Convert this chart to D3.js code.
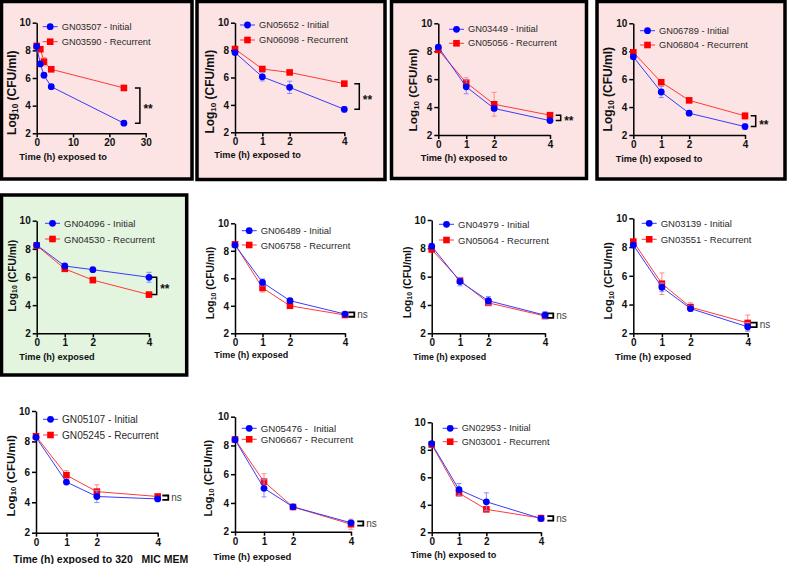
<!DOCTYPE html>
<html><head><meta charset="utf-8">
<script src="https://cdn.jsdelivr.net/npm/d3@7"></script>
<style>
body{margin:0;background:#fff}
svg{display:block;font-family:"Liberation Sans",Arial,sans-serif}
</style>
</head><body><svg id="c" width="787" height="564"></svg>
<script>
// ---------------- DATA ----------------
const initialStrains   = ["GN03507","GN05652","GN03449","GN06789","GN04096","GN06489","GN04979","GN03139","GN05107","GN05476","GN02953"];
const recurrentStrains = ["GN03590","GN06098","GN05056","GN06804","GN04530","GN06758","GN05064","GN03551","GN05245","GN06667","GN03001"];
const initialSep = [" - "," - "," - "," - "," - "," - "," - "," - "," - "," -  "," - "];
const timesLong  = [0,1,2,4,24];
const timesShort = [0,1,2,4];
const initialMeans = [
  [8.28,7.02,6.20,5.37,2.73],
  [7.82,6.05,5.28,3.68],
  [8.30,5.45,3.90,3.03],
  [7.60,5.08,3.56,2.60],
  [8.27,6.78,6.52,5.98],
  [8.42,5.70,4.37,3.40],
  [8.15,5.65,4.30,3.28],
  [8.14,5.20,3.72,2.45],
  [8.27,5.33,4.38,4.22],
  [8.40,5.02,3.73,2.62],
  [8.45,5.10,4.22,3.00]
];
const initialErr = [
  [0.08,0.10,0.15,0.05,0.15],
  [0.08,0.30,0.45,0.20],
  [0.10,0.50,0.15,0.08],
  [0.08,0.40,0.08,0.20],
  [0.08,0.10,0.08,0.35],
  [0.10,0.25,0.10,0.10],
  [0.08,0.30,0.30,0.25],
  [0.08,0.30,0.20,0.30],
  [0.05,0.10,0.40,0.10],
  [0.10,0.60,0.05,0.15],
  [0.08,0.45,0.65,0.12]
];
const recurrentMeans = [
  [8.32,8.08,7.18,6.63,5.28],
  [8.08,6.62,6.37,5.55],
  [8.10,5.75,4.20,3.42],
  [7.92,5.78,4.48,3.37],
  [8.24,6.58,5.78,4.75],
  [8.47,5.30,4.00,3.33],
  [7.92,5.72,4.15,3.22],
  [8.38,5.45,3.82,2.72],
  [8.34,5.78,4.70,4.38],
  [8.42,5.48,3.72,2.52],
  [8.38,4.85,3.67,3.03]
];
const recurrentErr = [
  [0.10,0.15,0.30,0.10,0.08],
  [0.05,0.12,0.08,0.05],
  [0.08,0.35,0.85,0.05],
  [0.08,0.10,0.05,0.25],
  [0.05,0.05,0.05,0.08],
  [0.05,0.30,0.08,0.10],
  [0.05,0.20,0.10,0.10],
  [0.05,0.75,0.30,0.55],
  [0.05,0.30,0.45,0.15],
  [0.05,0.55,0.08,0.35],
  [0.05,0.15,0.12,0.20]
];
const significance = ["**","**","**","**","**","ns","ns","ns","ns","ns","ns"];
const yTickValues = [2,4,6,8,10];
const xTicksLong  = [0,10,20,30];
const xTicksShort = [0,1,2,4];
const xTitles = [
  "Time (h) exposed to","Time (h) exposed to","Time (h) exposed to","Time (h) exposed to",
  "Time (h) exposed","Time (h) exposed","Time (h) exposed","Time (h) exposed",
  "Time (h) exposed to 320   MIC MEM","Time (h) exposed","Time (h) exposed to"
];
const yTitleMain = "Log";
const yTitleSub = "10";
const yTitleRest = " (CFU/ml)";

// ---------------- LAYOUT ----------------
const PINK = "#fce4e4", GREEN = "#e3f4df";
const layout = [
 {box:[1.5,1.5,192,179],fill:PINK, ax:36.7,xe:145.7,yt:22.7,yb:133.3, lab:[11.7,92.7,12], leg:[42.7,26.7,41.7,9.3], title:[19.3,157.3,9.3], bdx:16, xmax:30},
 {box:[197,1.5,385,179.5],fill:PINK, ax:235,xe:344.3,yt:22.7,yb:132.3, lab:[210,91.7,11.9], leg:[240,25,40,9.3], title:[214.3,155,9.2], bdx:15, xmax:4},
 {box:[391.5,1.5,586.5,178.5],fill:PINK, ax:438.3,xe:550,yt:23.3,yb:135, lab:[413.3,90,11.8], leg:[449,29.3,43.3,9.3], title:[420.7,158.3,9.2], bdx:10.7, xmax:4},
 {box:[597,1.5,785,179],fill:PINK, ax:633.3,xe:745,yt:23.3,yb:135, lab:[608.3,89.2,12], leg:[640,30.7,45,9.3], title:[615.7,159.3,9.2], bdx:10.7, xmax:4},
 {box:[1.5,195,186.7,375],fill:GREEN, ax:36.7,xe:149,yt:220.7,yb:333.3, lab:[11.7,275.8,10.2], leg:[45,223.3,239,9.5], title:[19.3,357.3,9.2], bdx:7.7, xmax:4},
 {box:null, ax:235,xe:345,yt:223.3,yb:333.3, lab:[210,283,10.3], leg:[241.7,230.7,245,9.4], title:[214.3,355,9.0], bdx:9.3, xmax:4},
 {box:null, ax:431.7,xe:545,yt:220,yb:333.3, lab:[406.7,282.5,10.2], leg:[439,224.3,240,9.5], title:[413.3,356.7,8.9], bdx:8.3, xmax:4},
 {box:null, ax:633.3,xe:747.7,yt:218.3,yb:333.3, lab:[608.3,280.8,11], leg:[641.7,223.3,239.3,9.5], title:[615,356.7,9.3], bdx:9, xmax:4},
 {box:null, ax:36,xe:157.7,yt:411,yb:532.7, lab:[10,475.8,11.6], leg:[43,419.3,435,10.1], title:[13.3,559,10.5], bdx:10.6, xmax:4},
 {box:null, ax:235,xe:351,yt:416.7,yb:531.7, lab:[208.3,478.3,10.9], leg:[241.7,428.3,439.3,9.7], title:[213.3,556.7,9.5], bdx:12.3, xmax:4},
 {box:null, ax:431.7,xe:541,yt:422.3,yb:532.3, lab:null, leg:[442.7,428.3,441.7,9.2], title:[410.7,555,9.1], bdx:12.3, xmax:4}
];

const BLUE = "#0000ff", RED = "#ff0000";
const BLUE_LINE = "#3a3aff", RED_LINE = "#ff3a3a";
const BLUE_ERR = "#8c8cff", RED_ERR = "#ff8c8c";

const svg = d3.select("#c");

layout.forEach((L, i) => {
  const g = svg.append("g");
  if (L.box) {
    const [x0,y0,x1,y1] = L.box;
    g.append("rect").attr("x",x0).attr("y",y0).attr("width",x1-x0).attr("height",y1-y0)
      .attr("fill",L.fill).attr("stroke","#000").attr("stroke-width",3.5);
  }
  const times = i === 0 ? timesLong : timesShort;
  const xt = i === 0 ? xTicksLong : xTicksShort;
  const x = d3.scaleLinear().domain([0, L.xmax]).range([L.ax, L.xe]);
  const y = d3.scaleLinear().domain([2, 10]).range([L.yb, L.yt]);

  // axes
  const yAxis = d3.axisLeft(y).tickValues(yTickValues).tickFormat(d3.format("d")).tickSize(4).tickSizeOuter(0).tickPadding(2);
  const xAxis = d3.axisBottom(x).tickValues(xt).tickFormat(d3.format("d")).tickSize(4).tickSizeOuter(0).tickPadding(2);
  const gy = g.append("g").attr("transform",`translate(${L.ax},0)`).call(yAxis);
  const gx = g.append("g").attr("transform",`translate(0,${L.yb})`).call(xAxis);
  [gx,gy].forEach(a=>{
    a.select(".domain").attr("stroke","#000").attr("stroke-width",1.5);
    a.selectAll(".tick line").attr("stroke","#000").attr("stroke-width",1.5);
    a.selectAll(".tick text").attr("fill","#111").attr("font-weight","bold")
      .attr("font-size",10).attr("font-family","'Liberation Sans',Arial,sans-serif");
  });

  // y title
  if (L.lab) {
    const t = g.append("text")
      .attr("transform",`translate(${L.lab[0]},${L.lab[1]}) rotate(-90)`)
      .attr("text-anchor","middle").attr("dominant-baseline","central")
      .attr("font-weight","bold").attr("font-size",L.lab[2]).attr("fill","#111");
    t.append("tspan").text(yTitleMain);
    t.append("tspan").attr("font-size",L.lab[2]*0.68).attr("dy",L.lab[2]*0.25).text(yTitleSub);
    t.append("tspan").attr("dy",-L.lab[2]*0.25).text(yTitleRest);
  }
  // x title
  g.append("text").attr("x",L.title[0]).attr("y",L.title[1])
    .attr("dominant-baseline","central").attr("font-weight","bold")
    .attr("font-size",L.title[2]).attr("fill","#111").style("white-space","pre")
    .text(xTitles[i]);

  const series = [
    {m: recurrentMeans[i], e: recurrentErr[i], c: RED, lc: RED_LINE, ec: RED_ERR, shape:"sq"},
    {m: initialMeans[i], e: initialErr[i], c: BLUE, lc: BLUE_LINE, ec: BLUE_ERR, shape:"ci"}
  ];
  const line = d3.line().x(d=>x(d[0])).y(d=>y(d[1]));
  series.forEach(s=>{
    const pts = times.map((t,k)=>[t, s.m[k], s.e[k]]);
    g.append("path").attr("d", line(pts)).attr("fill","none").attr("stroke",s.lc).attr("stroke-width",1);
    pts.forEach(p=>{
      const cx = x(p[0]), y1 = y(p[1]+p[2]), y2 = y(p[1]-p[2]);
      g.append("path").attr("d",`M${cx},${y1}V${y2}M${cx-2.5},${y1}H${cx+2.5}M${cx-2.5},${y2}H${cx+2.5}`)
        .attr("stroke",s.ec).attr("stroke-width",1).attr("fill","none");
    });
    pts.forEach(p=>{
      const cx = x(p[0]), cy = y(p[1]);
      if (s.shape==="ci") g.append("circle").attr("cx",cx).attr("cy",cy).attr("r",3.4).attr("fill",s.c);
      else g.append("rect").attr("x",cx-3.3).attr("y",cy-3.3).attr("width",6.6).attr("height",6.6).attr("fill",s.c);
    });
  });

  // legend
  const [lx, ly1, ly2, lfs] = L.leg;
  const legItems = [
    {y: ly1, c: BLUE, lc: BLUE_LINE, shape:"ci", label: initialStrains[i] + initialSep[i] + "Initial"},
    {y: ly2, c: RED, lc: RED_LINE, shape:"sq", label: recurrentStrains[i] + " - Recurrent"}
  ];
  legItems.forEach(it=>{
    g.append("line").attr("x1",lx).attr("x2",lx+15).attr("y1",it.y).attr("y2",it.y).attr("stroke",it.lc).attr("stroke-width",1);
    if (it.shape==="ci") g.append("circle").attr("cx",lx+7.5).attr("cy",it.y).attr("r",3.4).attr("fill",it.c);
    else g.append("rect").attr("x",lx+7.5-3.3).attr("y",it.y-3.3).attr("width",6.6).attr("height",6.6).attr("fill",it.c);
    g.append("text").attr("x",lx+19).attr("y",it.y).attr("dominant-baseline","central")
      .attr("font-size",lfs).attr("fill","#2a2a2a").style("white-space","pre").text(it.label);
  });

  // significance bracket
  const n = times.length - 1;
  const a = initialMeans[i][n], b = recurrentMeans[i][n];
  let yT = y(Math.max(a,b)), yB = y(Math.min(a,b));
  const bx = x(times[n]) + L.bdx;
  if (significance[i] === "**") {
    g.append("path").attr("d",`M${bx-5},${yT}H${bx}V${yB}H${bx-5}`)
      .attr("fill","none").attr("stroke","#000").attr("stroke-width",1.5);
    g.append("text").attr("x",bx+3.5).attr("y",(yT+yB)/2+3.5).attr("dominant-baseline","central")
      .attr("font-weight","bold").attr("font-size",12).attr("fill","#111").text(significance[i]);
  } else {
    if (yB - yT < 4) { const c = (yT+yB)/2; yT = c-2.2; yB = c+2.2; }
    g.append("path").attr("d",`M${bx-6},${yT}H${bx}V${yB}H${bx-6}`)
      .attr("fill","none").attr("stroke","#000").attr("stroke-width",1.8);
    g.append("text").attr("x",bx+3).attr("y",(yT+yB)/2).attr("dominant-baseline","central")
      .attr("font-size",10).attr("fill","#444").text(significance[i]);
  }
});
</script>
</body></html>
